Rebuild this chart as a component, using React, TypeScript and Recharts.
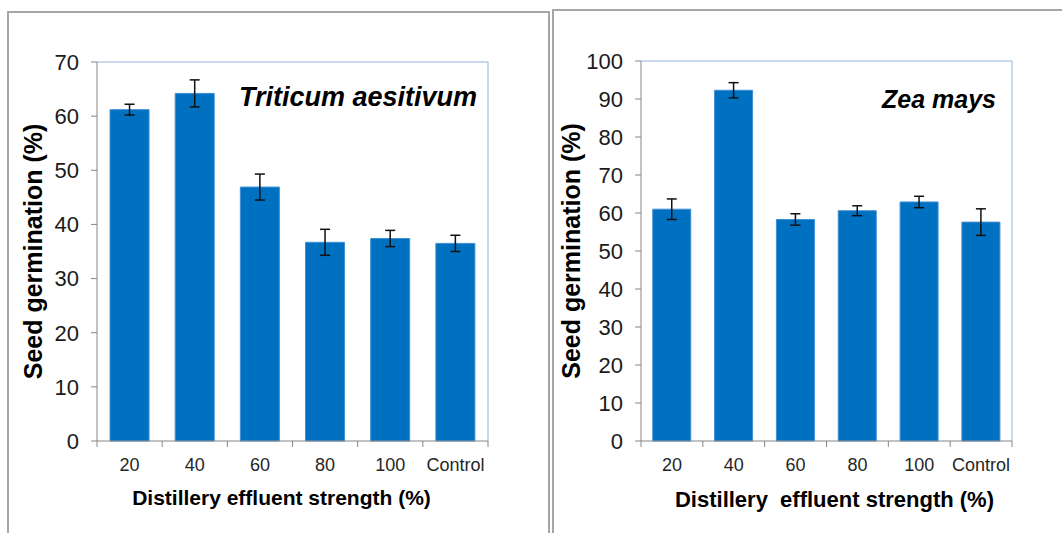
import React from 'react';
import { BarChart, Bar, XAxis, YAxis, ErrorBar, ReferenceLine, Label } from 'recharts';

const categories = ['20', '40', '60', '80', '100', 'Control'];
const wheatValues = [61.2, 64.2, 46.9, 36.7, 37.4, 36.5];
const wheatErrors = [1.0, 2.5, 2.4, 2.4, 1.5, 1.5];
const maizeValues = [61.0, 92.3, 58.3, 60.6, 62.9, 57.6];
const maizeErrors = [2.7, 2.0, 1.5, 1.3, 1.5, 3.5];
const wheatTicks = [0, 10, 20, 30, 40, 50, 60, 70];
const maizeTicks = [0, 10, 20, 30, 40, 50, 60, 70, 80, 90, 100];

const FONT = '"Liberation Sans", Arial, sans-serif';
const AXIS_GRAY = '#868686';
const FRAME_BLUE = '#95b3d7';
const BAR_BLUE = '#0070c0';

const buildData = (values: number[], errors: number[]) =>
  categories.map((c, i) => ({ cat: c, pos: i + 0.5, v: values[i], e: errors[i] }));

const boundaryTicks = categories.flatMap((_, i) => [i, i + 0.5]).concat(categories.length);

const BoundaryTick = (props: any) => {
  const { x, y, payload } = props;
  const v = payload.value;
  if (Number.isInteger(v)) {
    return <line x1={x} x2={x} y1={y} y2={y + 6} stroke={AXIS_GRAY} strokeWidth={1} />;
  }
  return (
    <text x={x} y={y + 17} dy="0.71em" textAnchor="middle" fontSize={18} fill="#262626" fontFamily={FONT}>
      {categories[Math.floor(v)]}
    </text>
  );
};

type PanelProps = {
  left: number;
  width: number;
  marginTop: number;
  marginRight: number;
  yWidth: number;
  yMax: number;
  yTicks: number[];
  values: number[];
  errors: number[];
  gap: string;
  title: string;
  titleSize: number;
  titleRight: number;
  titleBaseline: number;
  yTitleX: number;
  xTitle: string;
  xTitleSize: number;
  xTitleDx: number;
  xTitleBaseline: number;
};

const Panel = (p: PanelProps) => {
  const data = buildData(p.values, p.errors);
  return (
    <div style={{ position: 'absolute', left: p.left, top: 0 }}>
      <BarChart
        width={p.width}
        height={533}
        data={data}
        margin={{ top: p.marginTop, right: p.marginRight, bottom: 22, left: 0 }}
        barCategoryGap={p.gap}
      >
        <XAxis xAxisId="cat" dataKey="cat" hide height={0} />
        <XAxis
          xAxisId="num"
          type="number"
          dataKey="pos"
          domain={[0, categories.length]}
          ticks={boundaryTicks}
          interval={0}
          tickSize={0}
          tickMargin={0}
          tickLine={false}
          axisLine={{ stroke: AXIS_GRAY, strokeWidth: 1 }}
          tick={(tp: any) => <BoundaryTick {...tp} />}
          height={70}
        >
          <Label
            content={(lp: any) => {
              const vb = lp.viewBox;
              return (
                <text
                  x={vb.x + vb.width / 2 + p.xTitleDx}
                  y={vb.y + p.xTitleBaseline}
                  textAnchor="middle"
                  fontSize={p.xTitleSize}
                  fontWeight="bold"
                  fontFamily={FONT}
                  fill="#000"
                  style={{ whiteSpace: 'pre' }}
                >
                  {p.xTitle}
                </text>
              );
            }}
          />
        </XAxis>
        <YAxis
          domain={[0, p.yMax]}
          ticks={p.yTicks}
          interval={0}
          width={p.yWidth}
          tickSize={6}
          tickMargin={12}
          axisLine={{ stroke: AXIS_GRAY, strokeWidth: 1 }}
          tickLine={{ stroke: AXIS_GRAY, strokeWidth: 1 }}
          tick={{ fontSize: 22, fill: '#1a1a1a', fontFamily: FONT }}
        >
          <Label
            content={(lp: any) => {
              const vb = lp.viewBox;
              const cx = vb.x + p.yTitleX;
              const cy = vb.y + vb.height / 2;
              return (
                <text
                  x={cx}
                  y={cy}
                  dy="0.36em"
                  transform={`rotate(-90, ${cx}, ${cy})`}
                  textAnchor="middle"
                  fontSize={25}
                  fontWeight="bold"
                  fontFamily={FONT}
                  fill="#000"
                >
                  Seed germination (%)
                </text>
              );
            }}
          />
        </YAxis>
        <ReferenceLine xAxisId="num" y={p.yMax} stroke={FRAME_BLUE} strokeWidth={1}>
          <Label
            content={(lp: any) => {
              const vb = lp.viewBox;
              return (
                <text
                  x={vb.x + vb.width - p.titleRight}
                  y={vb.y + p.titleBaseline}
                  textAnchor="end"
                  fontSize={p.titleSize}
                  fontWeight="bold"
                  fontStyle="italic"
                  fontFamily={FONT}
                  fill="#000"
                >
                  {p.title}
                </text>
              );
            }}
          />
        </ReferenceLine>
        <ReferenceLine xAxisId="num" x={categories.length} stroke={FRAME_BLUE} strokeWidth={1} />
        <Bar xAxisId="cat" dataKey="v" fill={BAR_BLUE} stroke="#3d8fd6" strokeWidth={1} isAnimationActive={false}>
          <ErrorBar dataKey="e" width={5} stroke="#111" strokeWidth={1.5} direction="y" />
        </Bar>
      </BarChart>
    </div>
  );
};

export default function App() {
  return (
    <div
      style={{
        position: 'absolute',
        left: 0,
        top: 0,
        width: 1062,
        height: 533,
        overflow: 'hidden',
        background: '#fff',
        fontFamily: FONT,
      }}
    >
      <div
        style={{
          position: 'absolute',
          left: 7,
          top: 11,
          width: 543,
          height: 540,
          border: '2px solid #a6a6a6',
          boxSizing: 'border-box',
        }}
      />
      <div
        style={{
          position: 'absolute',
          left: 552,
          top: 9,
          width: 600,
          height: 540,
          border: '2px solid #a6a6a6',
          boxSizing: 'border-box',
        }}
      />
      <Panel
        left={0}
        width={560}
        marginTop={62}
        marginRight={72}
        yWidth={97}
        yMax={70}
        yTicks={wheatTicks}
        values={wheatValues}
        errors={wheatErrors}
        gap="20%"
        title="Triticum aesitivum"
        titleSize={27}
        titleRight={11}
        titleBaseline={44}
        yTitleX={33}
        xTitle="Distillery effluent strength (%)"
        xTitleSize={21}
        xTitleDx={-11}
        xTitleBaseline={64}
      />
      <Panel
        left={553}
        width={509}
        marginTop={61}
        marginRight={50}
        yWidth={88}
        yMax={100}
        yTicks={maizeTicks}
        values={maizeValues}
        errors={maizeErrors}
        gap="19%"
        title="Zea mays"
        titleSize={25}
        titleRight={16}
        titleBaseline={47}
        yTitleX={18}
        xTitle={'Distillery\u00a0 effluent strength (%)'}
        xTitleSize={22}
        xTitleDx={8}
        xTitleBaseline={66}
      />
    </div>
  );
}
